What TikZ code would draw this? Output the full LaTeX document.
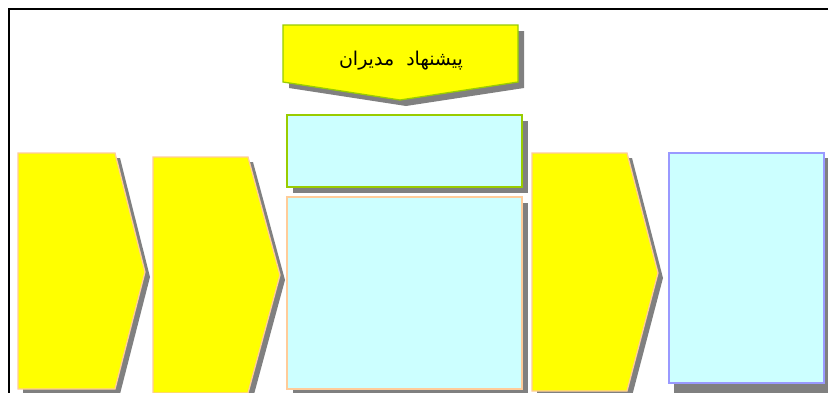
\documentclass[tikz,border=0pt]{standalone}
\usepackage{fontspec}
\newfontfamily\arabicfont[Script=Arabic]{DejaVu Sans}
\TeXXeTstate=1
\definecolor{shad}{HTML}{808080}
\definecolor{yel}{HTML}{FFFF00}
\definecolor{cyanf}{HTML}{CCFFFF}
\definecolor{peach}{HTML}{FFCC99}
\definecolor{lgreen}{HTML}{99CC00}
\definecolor{lblue}{HTML}{9999FF}
\tikzset{
  shadowshape/.style={fill=shad,draw=none},
  yelshape/.style={fill=yel,draw=peach,line width=1.3pt,line join=miter},
  cyanbox/.style={fill=cyanf,draw=peach,line width=1.3pt},
}
\begin{document}
\begin{tikzpicture}[x=1pt,y=-1pt]
\useasboundingbox (0,0) rectangle (828,392);
\clip (0,0) rectangle (828,392);
\fill[white] (0,0) rectangle (828,392);
% frame
\draw[black,line width=2pt] (9,400) -- (9,9) -- (840,9);
% chevron 1
\fill[shadowshape,shift={(5,5)}] (18,153) -- (115,153) -- (145,272) -- (115,389) -- (18,389) -- cycle;
\draw[yelshape] (18,153) -- (115,153) -- (145,272) -- (115,389) -- (18,389) -- cycle;
% chevron 2
\fill[shadowshape,shift={(5,5)}] (153,157) -- (248,157) -- (280,275) -- (248,393) -- (153,393) -- cycle;
\draw[yelshape] (153,157) -- (248,157) -- (280,275) -- (248,393) -- (153,393) -- cycle;
% top down-arrow
\fill[shadowshape,shift={(6,6)}] (283,25) -- (518,25) -- (518,82) -- (400,100) -- (283,82) -- cycle;
\draw[fill=yel,draw=lgreen,line width=1.3pt] (283,25) -- (518,25) -- (518,82) -- (400,100) -- (283,82) -- cycle;
\node[font=\arabicfont\fontsize{19}{22}\selectfont,inner sep=0pt] (title) at (401,61) {\beginR پیشنهاد\ \ مدیران\endR};
% green box
\fill[shadowshape] (293,121) rectangle (528,193);
\draw[fill=cyanf,draw=lgreen,line width=1.3pt] (287,115) rectangle (522,187);
% big cyan box
\fill[shadowshape] (293,203) rectangle (528,395);
\draw[cyanbox] (287,197) rectangle (522,389);
% chevron 3
\fill[shadowshape,shift={(5,5)}] (532,153) -- (627,153) -- (658,273) -- (627,391) -- (532,391) -- cycle;
\draw[yelshape] (532,153) -- (627,153) -- (658,273) -- (627,391) -- (532,391) -- cycle;
% blue box
\fill[shadowshape] (674,158) rectangle (830,395);
\draw[fill=cyanf,draw=lblue,line width=1.3pt] (669,153) rectangle (824,383);
\end{tikzpicture}
\end{document}
